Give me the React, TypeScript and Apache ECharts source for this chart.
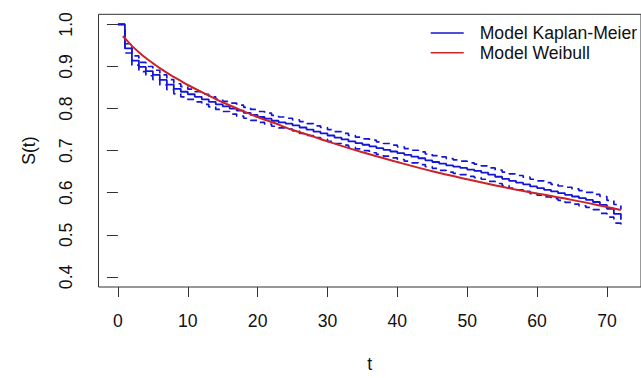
import React, { useEffect, useRef } from "react";
import * as echarts from "echarts";

const times = [0, 1, 2, 3, 4, 5, 6, 7, 8, 9, 10, 11, 12, 13, 14, 15, 16, 17, 18, 19, 20, 21, 22, 23, 24, 25, 26, 27, 28, 29, 30, 31, 32, 33, 34, 35, 36, 37, 38, 39, 40, 41, 42, 43, 44, 45, 46, 47, 48, 49, 50, 51, 52, 53, 54, 55, 56, 57, 58, 59, 60, 61, 62, 63, 64, 65, 66, 67, 68, 69, 70, 71, 72];

const kmSurv = [1.0, 0.943, 0.914, 0.899, 0.889, 0.880, 0.868, 0.857, 0.847, 0.840, 0.834, 0.828, 0.822, 0.816, 0.810, 0.805, 0.800, 0.795, 0.790, 0.785, 0.780, 0.776, 0.771, 0.767, 0.764, 0.760, 0.755, 0.750, 0.745, 0.741, 0.736, 0.731, 0.727, 0.722, 0.718, 0.714, 0.710, 0.706, 0.702, 0.698, 0.694, 0.690, 0.686, 0.682, 0.677, 0.673, 0.669, 0.665, 0.662, 0.659, 0.655, 0.652, 0.648, 0.643, 0.638, 0.633, 0.628, 0.624, 0.620, 0.615, 0.611, 0.607, 0.603, 0.599, 0.595, 0.591, 0.587, 0.583, 0.578, 0.571, 0.562, 0.550, 0.536];

const kmUpper = [1.0, 0.954, 0.925, 0.910, 0.900, 0.891, 0.880, 0.869, 0.859, 0.852, 0.846, 0.840, 0.834, 0.828, 0.822, 0.817, 0.813, 0.808, 0.803, 0.798, 0.793, 0.789, 0.784, 0.780, 0.777, 0.773, 0.769, 0.764, 0.759, 0.755, 0.750, 0.745, 0.741, 0.736, 0.732, 0.728, 0.725, 0.721, 0.717, 0.713, 0.709, 0.705, 0.701, 0.697, 0.692, 0.688, 0.685, 0.681, 0.678, 0.675, 0.671, 0.668, 0.664, 0.659, 0.654, 0.649, 0.645, 0.641, 0.637, 0.632, 0.628, 0.624, 0.620, 0.616, 0.613, 0.609, 0.605, 0.601, 0.596, 0.591, 0.582, 0.572, 0.560];

const kmLower = [1.0, 0.932, 0.903, 0.888, 0.878, 0.869, 0.856, 0.845, 0.835, 0.828, 0.822, 0.816, 0.810, 0.804, 0.798, 0.793, 0.787, 0.782, 0.777, 0.772, 0.767, 0.763, 0.758, 0.754, 0.751, 0.747, 0.741, 0.736, 0.731, 0.727, 0.722, 0.717, 0.713, 0.708, 0.704, 0.700, 0.695, 0.691, 0.687, 0.683, 0.679, 0.675, 0.671, 0.667, 0.662, 0.658, 0.653, 0.649, 0.646, 0.643, 0.639, 0.636, 0.632, 0.627, 0.622, 0.617, 0.611, 0.607, 0.603, 0.598, 0.594, 0.590, 0.586, 0.582, 0.577, 0.573, 0.569, 0.565, 0.560, 0.551, 0.542, 0.528, 0.514];

const weibullTimes = [0.7, 1, 1.5, 2, 3, 4, 5, 6, 7.5, 9, 10, 12.5, 15, 17.5, 20, 22.5, 25, 27.5, 30, 35, 40, 45, 50, 55, 60, 65, 70, 72];
const weibullSurv = [0.972, 0.967, 0.958, 0.949, 0.934, 0.920, 0.908, 0.896, 0.880, 0.866, 0.856, 0.835, 0.815, 0.797, 0.780, 0.765, 0.749, 0.736, 0.722, 0.696, 0.673, 0.651, 0.632, 0.614, 0.598, 0.583, 0.566, 0.559];

const xTicks = [0, 10, 20, 30, 40, 50, 60, 70];
const yTicks = [0.4, 0.5, 0.6, 0.7, 0.8, 0.9, 1.0];

const FONT = "'Liberation Sans', Arial, sans-serif";
const FS = 17.6;
const BLUE = "#1515d5";
const RED = "#cc2229";
const DASH = [7, 5];

function pairs(xs: number[], ys: number[]) {
  return xs.map((x, i) => [x, ys[i]]);
}

export default function App() {
  const ref = useRef<HTMLDivElement>(null);
  useEffect(() => {
    if (!ref.current) return;
    const chart = echarts.init(ref.current, null, { renderer: "svg" });
    chart.setOption({
      animation: false,
      backgroundColor: "#ffffff",
      textStyle: { fontFamily: FONT },
      grid: {
        show: true,
        left: 98.5,
        top: 14.3,
        width: 550.4,
        height: 280.2,
        borderColor: "#333",
        borderWidth: 1,
        backgroundColor: "transparent",
      },
      legend: {
        data: ["Model Kaplan-Meier", "Model Weibull"],
        orient: "vertical",
        left: 430.7,
        top: 24,
        padding: 0,
        itemWidth: 33,
        itemHeight: 20,
        itemGap: 1.7,
        icon: "path://M0 9.2 L33 9.2 L33 10.8 L0 10.8 Z",
        textStyle: {
          fontFamily: FONT,
          fontSize: FS,
          color: "#111",
          padding: [0, 0, 0, 11],
        },
      },
      xAxis: {
        type: "value",
        min: -2.78,
        max: 74.88,
        name: "t",
        nameLocation: "middle",
        nameGap: 68,
        nameTextStyle: { fontFamily: FONT, fontSize: FS, color: "#111" },
        splitLine: { show: false },
        axisLine: { show: false },
        axisTick: {
          show: true,
          length: 10,
          customValues: xTicks,
          lineStyle: { color: "#333", width: 1 },
        },
        axisLabel: {
          customValues: xTicks,
          margin: 25,
          fontFamily: FONT,
          fontSize: FS,
          color: "#111",
        },
      },
      yAxis: {
        type: "value",
        min: 0.376,
        max: 1.024,
        name: "S(t)",
        nameLocation: "middle",
        nameGap: 61,
        nameTextStyle: { fontFamily: FONT, fontSize: FS, color: "#111" },
        splitLine: { show: false },
        axisLine: { show: false },
        axisTick: {
          show: true,
          length: 11,
          customValues: yTicks,
          lineStyle: { color: "#333", width: 1 },
        },
        axisLabel: {
          customValues: yTicks,
          rotate: 90,
          margin: 23.5,
          fontFamily: FONT,
          fontSize: FS,
          color: "#111",
          formatter: (v: number) => v.toFixed(1),
        },
      },
      series: [
        {
          name: "lower",
          type: "line",
          step: "end",
          symbol: "none",
          data: pairs(times, kmLower),
          lineStyle: { color: BLUE, width: 1.7, type: DASH },
          itemStyle: { color: BLUE },
        },
        {
          name: "upper",
          type: "line",
          step: "end",
          symbol: "none",
          data: pairs(times, kmUpper),
          lineStyle: { color: BLUE, width: 1.7, type: DASH },
          itemStyle: { color: BLUE },
        },
        {
          name: "Model Kaplan-Meier",
          type: "line",
          step: "end",
          symbol: "none",
          data: pairs(times, kmSurv),
          lineStyle: { color: BLUE, width: 1.8 },
          itemStyle: { color: BLUE },
        },
        {
          name: "Model Weibull",
          type: "line",
          symbol: "none",
          smooth: 0.3,
          data: pairs(weibullTimes, weibullSurv),
          lineStyle: { color: RED, width: 2 },
          itemStyle: { color: RED },
        },
      ],
    });
    return () => chart.dispose();
  }, []);
  return (
    <div
      ref={ref}
      style={{ position: "absolute", left: 0, top: 0, width: 641, height: 378, background: "#fff" }}
    />
  );
}
